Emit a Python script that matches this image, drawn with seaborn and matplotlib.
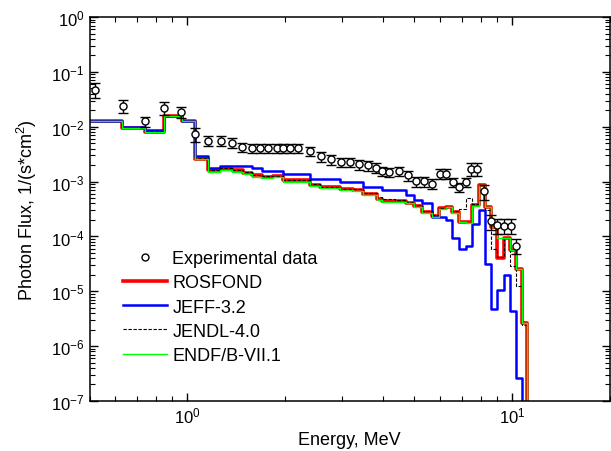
import numpy as np
import pandas as pd
import seaborn as sns
import matplotlib.pyplot as plt
from matplotlib.ticker import LogLocator, NullFormatter
from matplotlib.lines import Line2D

# bin edges (MeV) shared by the calculated spectra
edges = [0.50, 0.63, 0.74, 0.85, 0.96, 1.06, 1.16, 1.26, 1.37, 1.48, 1.58, 1.70,
         1.84, 1.97, 2.16, 2.38, 2.56, 2.75, 2.95, 3.23, 3.47, 3.83, 3.99, 4.35,
         4.73, 5.00, 5.29, 5.68, 5.97, 6.28, 6.55, 6.88, 7.22, 7.54, 7.92, 8.27,
         8.62, 8.99, 9.45, 9.86, 10.28, 10.74, 11.12]

rosfond = [1.25e-2, 9.4e-3, 8.0e-3, 1.54e-2, 1.27e-2, 2.62e-3, 1.60e-3, 1.72e-3,
           1.60e-3, 1.46e-3, 1.30e-3, 1.22e-3, 1.27e-3, 1.06e-3, 1.06e-3, 8.8e-4,
           8.0e-4, 8.0e-4, 7.2e-4, 7.0e-4, 6.0e-4, 4.9e-4, 4.4e-4, 4.4e-4,
           4.1e-4, 3.6e-4, 2.8e-4, 2.4e-4, 3.3e-4, 3.5e-4, 2.8e-4, 1.85e-4,
           1.8e-4, 3.7e-4, 8.6e-4, 3.5e-4, 1.5e-4, 4.0e-5, 9.2e-5, 5.6e-5,
           2.6e-5, 2.6e-6]

jeff = [1.25e-2, 1.01e-2, 8.9e-3, 1.55e-2, 1.27e-2, 2.89e-3, 1.77e-3, 1.93e-3,
        1.93e-3, 1.93e-3, 1.74e-3, 1.57e-3, 1.57e-3, 1.37e-3, 1.37e-3, 1.13e-3,
        1.13e-3, 1.13e-3, 9.9e-4, 9.9e-4, 8.0e-4, 8.0e-4, 7.0e-4, 7.0e-4,
        5.6e-4, 4.6e-4, 4.0e-4, 2.3e-4, 2.3e-4, 2.0e-4, 9.2e-5, 6.0e-5,
        6.8e-5, 1.72e-4, 3.0e-4, 3.2e-5, 4.8e-6, 1.06e-5, 2.0e-5, 4.4e-6,
        2.6e-7]

jendl = [1.25e-2, 9.6e-3, 8.3e-3, 1.54e-2, 1.27e-2, 2.65e-3, 1.64e-3, 1.75e-3,
         1.62e-3, 1.48e-3, 1.32e-3, 1.24e-3, 1.28e-3, 1.08e-3, 1.07e-3, 8.9e-4,
         8.1e-4, 8.1e-4, 7.4e-4, 7.2e-4, 6.3e-4, 5.2e-4, 4.8e-4, 4.7e-4,
         4.2e-4, 3.7e-4, 2.9e-4, 2.5e-4, 3.3e-4, 3.5e-4, 2.9e-4, 3.2e-4,
         5.0e-4, 3.9e-4, 8.6e-4, 3.0e-4, 6.0e-5, 4.3e-5, 9.2e-5, 2.85e-5,
         1.23e-5, 2.4e-6]

endf = [1.25e-2, 9.5e-3, 8.1e-3, 1.54e-2, 1.27e-2, 2.55e-3, 1.52e-3, 1.64e-3,
        1.52e-3, 1.38e-3, 1.23e-3, 1.15e-3, 1.20e-3, 1.00e-3, 1.00e-3, 8.3e-4,
        7.6e-4, 7.6e-4, 6.9e-4, 6.7e-4, 5.8e-4, 4.7e-4, 4.3e-4, 4.3e-4,
        4.0e-4, 3.5e-4, 2.7e-4, 2.3e-4, 3.2e-4, 3.4e-4, 2.7e-4, 1.8e-4,
        1.75e-4, 3.6e-4, 8.8e-4, 3.5e-4, 1.5e-4, 9.2e-5, 9.2e-5, 5.6e-5,
        2.6e-5, 2.6e-6]

# experimental points
exp_e = [0.52, 0.633, 0.743, 0.85, 0.956, 1.058, 1.162, 1.269, 1.371, 1.472,
         1.579, 1.675, 1.776, 1.884, 1.974, 2.07, 2.195, 2.384, 2.576, 2.78,
         2.98, 3.18, 3.39, 3.60, 3.80, 3.99, 4.19, 4.50, 4.77, 5.07, 5.37,
         5.69, 6.00, 6.28, 6.56, 6.88, 7.21, 7.45, 7.80, 8.20, 8.60, 9.00,
         9.45, 9.90, 10.25]
exp_flux = [4.77e-2, 2.44e-2, 1.25e-2, 2.24e-2, 1.85e-2, 7.3e-3, 5.6e-3, 5.6e-3,
            5.1e-3, 4.3e-3, 4.1e-3, 4.1e-3, 4.1e-3, 4.1e-3, 4.1e-3, 4.1e-3,
            4.1e-3, 3.6e-3, 2.9e-3, 2.54e-3, 2.28e-3, 2.28e-3, 2.06e-3, 1.98e-3,
            1.80e-3, 1.57e-3, 1.50e-3, 1.57e-3, 1.30e-3, 1.01e-3, 1.01e-3, 9.2e-4,
            1.40e-3, 1.40e-3, 9.9e-4, 8.0e-4, 9.9e-4, 1.72e-3, 1.72e-3, 6.7e-4,
            1.9e-4, 1.6e-4, 1.58e-4, 1.58e-4, 6.8e-5]
exp_rel_err = [0.3, 0.27, 0.22, 0.27, 0.22, 0.28, 0.2, 0.2, 0.2, 0.2,
               0.2, 0.2, 0.2, 0.2, 0.2, 0.2, 0.2, 0.2, 0.2, 0.2,
               0.2, 0.2, 0.2, 0.2, 0.2, 0.2, 0.2, 0.2, 0.2, 0.2, 0.2,
               0.2, 0.2, 0.2, 0.2, 0.2, 0.2, 0.25, 0.25, 0.3,
               0.3, 0.3, 0.3, 0.3, 0.3]

x_major = [1, 10]
y_major = [1e-7, 1e-6, 1e-5, 1e-4, 1e-3, 1e-2, 1e-1, 1]


def step_frame(e, v):
    # steps-post line that drops to the bottom after the last bin
    x = list(e) + [e[-1]]
    y = list(v) + [v[-1], 1e-12]
    return pd.DataFrame({'E': x, 'flux': y})


plt.rcParams['font.family'] = ['Liberation Sans', 'DejaVu Sans']
plt.rcParams['mathtext.fontset'] = 'custom'
plt.rcParams['mathtext.rm'] = 'Liberation Sans'
plt.rcParams['mathtext.it'] = 'Liberation Sans:italic'

fig = plt.figure(figsize=(6.11, 4.52), dpi=100)
ax = fig.add_axes([0.1465, 0.1106, 0.8515, 0.8494])

series = [
    ('ROSFOND', rosfond, edges, dict(color='#ff0000', lw=2.6)),
    ('JEFF-3.2', jeff, edges[:len(jeff) + 1], dict(color='#0000ff', lw=1.8)),
    ('JENDL-4.0', jendl, edges, dict(color='black', lw=0.8, ls=(0, (3, 1.5)))),
    ('ENDF/B-VII.1', endf, edges, dict(color='#00ff00', lw=1.0)),
]
for name, vals, e, kw in series:
    d = step_frame(e, vals)
    sns.lineplot(data=d, x='E', y='flux', ax=ax, estimator=None, sort=False,
                 drawstyle='steps-post', **kw)

exp_e = np.array(exp_e)
exp_flux = np.array(exp_flux)
err = exp_flux * np.array(exp_rel_err)
ax.errorbar(exp_e, exp_flux, yerr=err, fmt='none', ecolor='black',
            elinewidth=1, capsize=3.5, capthick=1)
sns.scatterplot(x=exp_e, y=exp_flux, ax=ax, marker='o', s=26,
                facecolor='white', edgecolor='black', linewidth=1, zorder=5)

ax.set_xscale('log')
ax.set_yscale('log')
ax.set_xticks(x_major)
ax.set_yticks(y_major)
ax.set_xlim(0.5, 20)
ax.set_ylim(1e-7, 1)

ax.yaxis.set_minor_locator(LogLocator(base=10, subs=np.arange(2, 10), numticks=20))
ax.yaxis.set_minor_formatter(NullFormatter())
ax.xaxis.set_minor_formatter(NullFormatter())
ax.tick_params(which='both', direction='in', top=True, right=True, labelsize=12)
ax.tick_params(which='major', length=6, width=1)
ax.tick_params(which='minor', length=3.5, width=0.8)
for s in ax.spines.values():
    s.set_linewidth(1.1)

ax.set_xlabel('Energy, MeV', fontsize=13)
ax.set_ylabel('Photon Flux, 1/(s*cm$^2$)', fontsize=13, labelpad=9)

handles = [
    Line2D([], [], ls='none', marker='o', mfc='white', mec='black', ms=5),
    Line2D([], [], color='#ff0000', lw=2.6),
    Line2D([], [], color='#0000ff', lw=1.8),
    Line2D([], [], color='black', lw=0.8, ls=(0, (3, 1.5))),
    Line2D([], [], color='#00ff00', lw=1.0),
]
labels = ['Experimental data', 'ROSFOND', 'JEFF-3.2', 'JENDL-4.0', 'ENDF/B-VII.1']
ax.legend(handles, labels, loc='upper left', bbox_to_anchor=(0.064, 0.393),
          frameon=False, fontsize=13, handlelength=2.45, handletextpad=0.3,
          labelspacing=0.4, borderpad=0, borderaxespad=0)

fig.savefig('out.png', dpi=100)
